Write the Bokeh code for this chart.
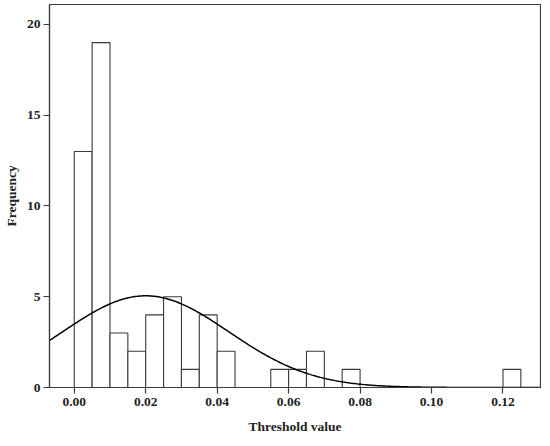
import numpy as np
from bokeh.plotting import figure
from bokeh.models import Range1d, FixedTicker, ColumnDataSource
from bokeh.embed import file_html
from bokeh.resources import INLINE

# Histogram data (bin width 0.005)
bin_left = [0.000, 0.005, 0.010, 0.015, 0.020, 0.025, 0.030, 0.035, 0.040,
            0.055, 0.060, 0.065, 0.075, 0.120]
counts = [13, 19, 3, 2, 4, 5, 1, 4, 2, 1, 1, 2, 1, 1]
bin_width = 0.005

# Fitted normal curve parameters
fit_mean = 0.0200
fit_std = 0.0233
n_total = sum(counts)

x_ticks = [0.00, 0.02, 0.04, 0.06, 0.08, 0.10, 0.12]
y_ticks = [0, 5, 10, 15, 20]

p = figure(width=541, height=436, output_backend="svg", toolbar_location=None,
           x_range=Range1d(-0.00693, 0.1305), y_range=Range1d(0, 21.1),
           min_border_left=45, min_border_top=4, min_border_right=1,
           min_border_bottom=46)

src = ColumnDataSource(dict(
    left=bin_left,
    right=[b + bin_width for b in bin_left],
    top=counts,
    bottom=[0] * len(counts),
))
p.quad(left="left", right="right", top="top", bottom="bottom", source=src,
       fill_color="white", line_color="#3a3a3a", line_width=1.1)

xs = np.linspace(-0.00693, 0.1305, 300)
ys = n_total * bin_width / (fit_std * np.sqrt(2 * np.pi)) * np.exp(-(xs - fit_mean) ** 2 / (2 * fit_std ** 2))
p.line(xs, ys, line_color="black", line_width=1.5)

p.grid.visible = False
p.outline_line_color = "#3a3a3a"
p.outline_line_width = 1.2
p.background_fill_color = "white"
p.border_fill_color = "white"

for ax in (p.xaxis[0], p.yaxis[0]):
    ax.major_label_text_font = "Liberation Serif"
    ax.major_label_text_font_style = "bold"
    ax.major_label_text_font_size = "13.5px"
    ax.major_label_text_color = "#222222"
    ax.axis_label_text_font = "Liberation Serif"
    ax.axis_label_text_font_style = "bold"
    ax.axis_label_text_font_size = "13.5px"
    ax.axis_label_text_color = "#222222"
    ax.axis_line_color = "#3a3a3a"
    ax.axis_line_width = 1.2
    ax.major_tick_line_color = "#3a3a3a"
    ax.major_tick_line_width = 1.2
    ax.major_tick_in = 0
    ax.major_tick_out = 6
    ax.minor_tick_line_color = None

p.xaxis.ticker = FixedTicker(ticks=x_ticks)
p.yaxis.ticker = FixedTicker(ticks=y_ticks)
p.xaxis.major_label_overrides = {t: f"{t:.2f}" for t in x_ticks}
p.xaxis.axis_label = "Threshold value"
p.yaxis.axis_label = "Frequency"
p.xaxis.major_label_standoff = 4
p.yaxis.major_label_standoff = 3
p.xaxis.axis_label_standoff = 10
p.yaxis.axis_label_standoff = 5

open("out.html", "w").write(file_html(p, INLINE))
